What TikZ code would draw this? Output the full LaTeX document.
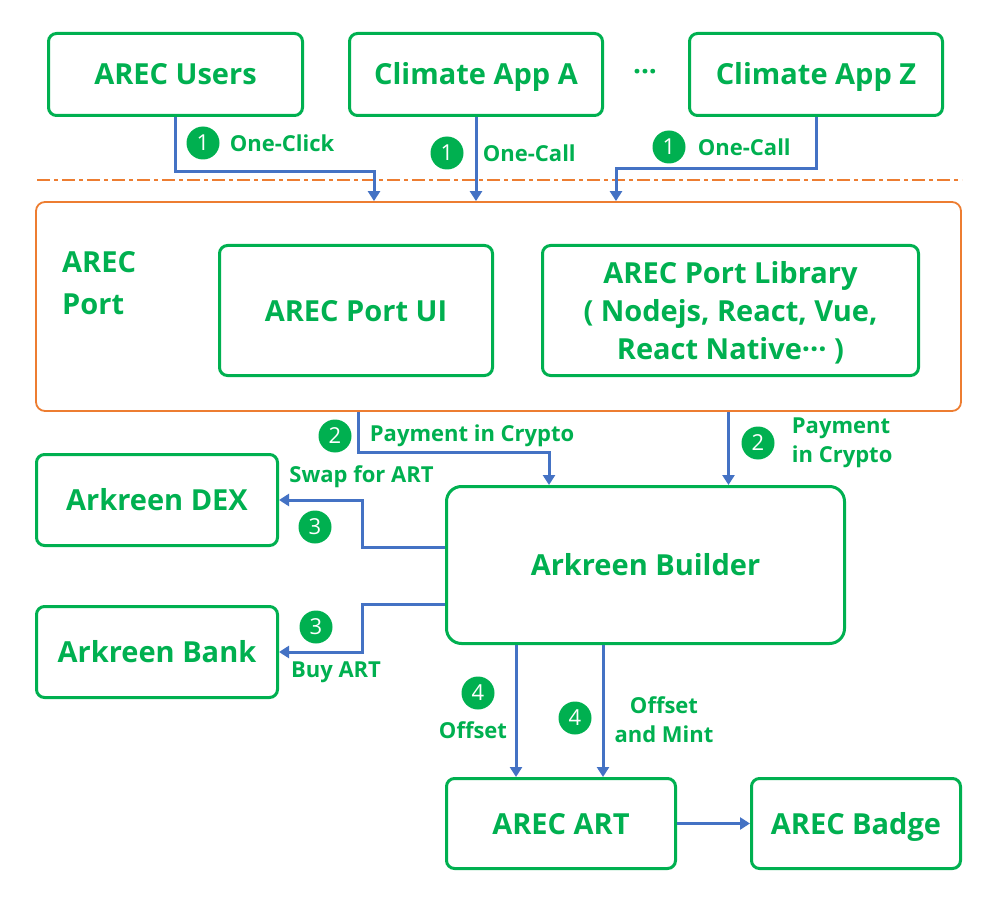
\documentclass[tikz,border=0pt]{standalone}
\usepackage{fontspec}
\setmainfont{Open Sans}
\usetikzlibrary{positioning, arrows.meta}
\definecolor{argreen}{HTML}{00B050}
\definecolor{arblue}{HTML}{4472C4}
\definecolor{arorange}{HTML}{ED7D31}

\begin{document}
\begin{tikzpicture}[x=1pt, y=-1pt,
	every node/.style={font=\bfseries, text=argreen},
	box/.style={rectangle, rounded corners=8pt, draw=argreen, line width=3pt, fill=white, inner sep=0pt, align=center, text height=21pt, text depth=0pt, font=\fontsize{29}{38}\selectfont\bfseries},
	portbox/.style={rectangle, rounded corners=9pt, draw=arorange, line width=1.8pt, minimum width=925pt, minimum height=209pt},
	num/.style={circle, fill=argreen, text=white, inner sep=0pt, minimum size=33pt, font=\fontsize{22}{22}\selectfont\mdseries},
	lbl/.style={inner sep=0pt, align=left, font=\fontsize{22}{29}\selectfont\bfseries},
	arr/.style={-{Triangle[length=10pt, width=12pt]}, draw=arblue, line width=3pt},
	sep/.style={draw=arorange, line width=1.5pt, dash pattern=on 13pt off 4pt on 4pt off 4pt}
	]
\useasboundingbox (0,0) rectangle (996,904);

% top row
\node[box, minimum width=254pt, minimum height=82pt] (users) at (175.5,74.5) {AREC Users};
\node[box, minimum width=253pt, minimum height=82pt, right=44pt of users] (appA) {Climate App A};
\node[font=\fontsize{28}{28}\selectfont\bfseries] (dots) at (645,75) {···};
\node[box, minimum width=253pt, minimum height=82pt, right=84pt of appA] (appZ) {Climate App Z};

\draw[sep] (37,180) -- (962,180);

% port
\node[portbox] (port) at (498.5,306.5) {};
\node[anchor=west, inner sep=0pt, align=left, font=\fontsize{29}{42}\selectfont\bfseries] (portname) at (62,283) {AREC\\Port};
\node[box, minimum width=273pt, minimum height=130pt] (portUI) at (356,310.5) {AREC Port UI};
\node[box, text height=, text depth=0pt, minimum width=376pt, minimum height=130pt, right=47pt of portUI] (lib) {AREC Port Library\\( Nodejs, React, Vue,\\React Native··· )};

% builder and around
\node[box, minimum width=241pt, minimum height=91pt] (dex) at (157,500) {Arkreen DEX};
\node[box, minimum width=241pt, minimum height=91pt, below=58pt of dex] (bank) {Arkreen Bank};
\node[box, rounded corners=15pt, minimum width=398pt, minimum height=157pt] (builder) at (645.5,565) {Arkreen Builder};
\node[box, minimum width=229pt, minimum height=90pt] (art) at (561,823.5) {AREC ART};
\node[box, minimum width=209pt, minimum height=90pt, right=73pt of art] (badge) {AREC Badge};

% steps
\node[num] (n1a) at (203,143) {1};
\node[lbl, right=10pt of n1a] (l1a) {One-Click};
\node[num] (n1b) at (447,153) {1};
\node[lbl, right=19pt of n1b] (l1b) {One-Call};
\node[num] (n1c) at (669,147) {1};
\node[lbl, right=12pt of n1c] (l1c) {One-Call};
\node[num] (n2a) at (335,436) {2};
\node[lbl, right=18pt of n2a] (l2a) {Payment in Crypto};
\node[num] (n2b) at (758,443) {2};
\node[lbl, right=17pt of n2b] (l2b) {Payment\\in Crypto};
\node[num] (n3a) at (315,527) {3};
\node[lbl] (l3a) at (361.5,477) {Swap for ART};
\node[num] (n3b) at (316,627) {3};
\node[lbl] (l3b) at (336,672) {Buy ART};
\node[num] (n4a) at (478,693) {4};
\node[lbl] (l4a) at (473,730) {Offset};
\node[num] (n4b) at (575,718) {4};
\node[lbl, align=center] (l4b) at (664,720) {Offset\\and Mint};

\coordinate (p2b) at ([xshift=230pt]port.south);
\coordinate (p4a) at ([xshift=-129.5pt]builder.south);
\coordinate (p4b) at ([xshift=-42.5pt]builder.south);

\draw[arr] (users.south) -- ++(0,55) -| ([xshift=-124.5pt]port.north);
\draw[arr] (appA.south) -- (appA.south |- port.north);
\draw[arr] (appZ.south) -- ++(0,52) -| ([xshift=117.5pt]port.north);
\draw[arr] ([xshift=-140.5pt]port.south) -- ++(0,41) -| ([xshift=-96.5pt]builder.north);
\draw[arr] (p2b) -- (p2b |- builder.north);
\draw[arr] ([yshift=18pt]builder.west) -- ++(-83,0) |- (dex.east);
\draw[arr] ([yshift=-39pt]builder.west) -- ++(-83,0) |- (bank.east);
\draw[arr] (p4a) -- (p4a |- art.north);
\draw[arr] (p4b) -- (p4b |- art.north);
\draw[arr] (art.east) -- (badge.west);

\end{tikzpicture}
\end{document}
